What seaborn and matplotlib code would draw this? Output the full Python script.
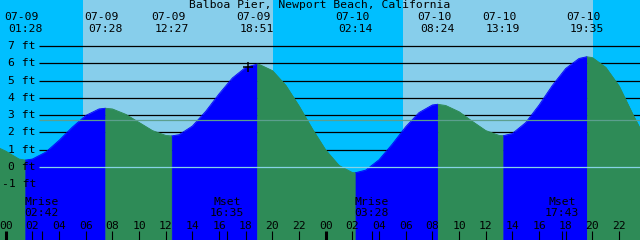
import matplotlib
matplotlib.use("Agg")
import matplotlib.pyplot as plt
import matplotlib.transforms as mtransforms
import numpy as np
import pandas as pd
import seaborn as sns

sns.set_theme(style="white")
plt.rcParams["font.family"] = ["DejaVu Sans Mono", "DejaVu Sans"]

title = "Balboa Pier, Newport Beach, California"

# High / low tides
tide_date = ["07-09", "07-09", "07-09", "07-09", "07-10", "07-10", "07-10", "07-10"]
tide_time = ["01:28", "07:28", "12:27", "18:51", "02:14", "08:24", "13:19", "19:35"]
tide_kind = ["low", "high", "low", "high", "low", "high", "low", "high"]
tide_ft = [0.4, 3.4, 1.8, 5.95, -0.33, 3.63, 1.81, 6.38]

# Water level, hours from 07-09 00:00
curve_hour = [-0.5] + list(range(0, 49))
curve_ft = [1.1,
            0.92, 0.46, 0.46, 0.86, 1.54, 2.31, 2.98, 3.36, 3.36, 3.05, 2.58, 2.11,
            1.83, 1.87, 2.37, 3.22, 4.23, 5.15, 5.77, 5.94, 5.58, 4.73, 3.53, 2.20,
            0.98, 0.09, -0.32, -0.18, 0.42, 1.33, 2.33, 3.15, 3.59, 3.56, 3.20, 2.64,
            2.11, 1.83, 1.94, 2.57, 3.58, 4.72, 5.70, 6.28, 6.33, 5.77, 4.69, 3.10,
            1.60]

# Sun and moon
sun_day = [0, 1]
sunrise = ["05:47", "05:47"]
sunset = ["20:04", "20:04"]
moon_event = ["Mrise", "Mset", "Mrise", "Mset"]
moon_time = ["02:42", "16:35", "03:28", "17:43"]
moon_day = [0, 0, 1, 1]

ft_ticks = [-1, 0, 1, 2, 3, 4, 5, 6, 7]
mean_level = 2.7
now_hour, now_ft = 18.2, 5.76

NIGHT = "#00BFFF"
DAY = "#87CEEB"
FLOOD = "#0000FF"
EBB = "#2E8B57"


def to_hours(hhmm, day=0):
    h, m = hhmm.split(":")
    return 24 * day + int(h) + int(m) / 60


tide_day = [0 if d == "07-09" else 1 for d in tide_date]
tide_hour = [to_hours(t, d) for t, d in zip(tide_time, tide_day)]

W, H = 640, 240
px_per_h = 13.333
x0 = -5.7 / px_per_h
x1 = x0 + W / px_per_h
px_per_ft = 17.286
y_top = 167 / px_per_ft
y_bot = (167 - H) / px_per_ft

fig = plt.figure(figsize=(6.4, 2.4), dpi=100)
ax = fig.add_axes([0, 0, 1, 1])
ax.set_xlim(x0, x1)
ax.set_ylim(y_bot, y_top)
ax.axis("off")

blend = mtransforms.blended_transform_factory(ax.transData, ax.transAxes)
yblend = mtransforms.blended_transform_factory(ax.transAxes, ax.transData)


def ty(ypix):
    return 1 - ypix / H


# sky: night / day
ax.axvspan(x0, x1, color=NIGHT, lw=0, zorder=0)
for d, sr, ss in zip(sun_day, sunrise, sunset):
    ax.axvspan(to_hours(sr, d), to_hours(ss, d), color=DAY, lw=0, zorder=0)

# foot lines (behind the water)
line_start = x0 + 39 / px_per_h
for f in range(1, 8):
    ax.hlines(f, line_start, x1, color="black", lw=0.9, zorder=1)

# water, split into flood and ebb stretches
pts = pd.DataFrame({"hour": curve_hour + tide_hour, "ft": curve_ft + tide_ft})
pts = pts.sort_values("hour").reset_index(drop=True)
bounds = [curve_hour[0]] + tide_hour + [curve_hour[-1]]
kinds = tide_kind + ["low"]
parts = []
for i in range(len(bounds) - 1):
    a, b = bounds[i], bounds[i + 1]
    seg = pts[(pts["hour"] >= a) & (pts["hour"] <= b)].copy()
    seg["seg"] = i
    seg["phase"] = "flood" if kinds[i] == "high" else "ebb"
    parts.append(seg)
    col = FLOOD if kinds[i] == "high" else EBB
    ax.fill_between(seg["hour"], seg["ft"], y_bot - 1, color=col, lw=0.4,
                    edgecolor=col, zorder=2)
water = pd.concat(parts, ignore_index=True)
sns.lineplot(data=water, x="hour", y="ft", hue="phase", units="seg",
             estimator=None, palette={"flood": FLOOD, "ebb": EBB},
             lw=0.6, legend=False, sort=True, ax=ax, zorder=2)
ax.set_xlim(x0, x1)
ax.set_ylim(y_bot, y_top)

# datum and mean level lines
ax.hlines(0, line_start, x1, color="#86D3E6", lw=0.9, zorder=3)
ax.hlines(mean_level, line_start, x1, color="#5C9F8E", lw=0.9, zorder=3)

ax.plot(now_hour, now_ft, marker="+", ms=7, mew=1.1, color="black", zorder=5)

fs = 8.2
kw = dict(fontsize=fs, color="black", zorder=6, va="center")

ax.text(0.5, ty(5.5), title, transform=ax.transAxes, ha="center", **kw)

date_tr = mtransforms.offset_copy(blend, fig=fig, x=-3.5, units="dots")
for hr, d, t in zip(tide_hour, tide_date, tide_time):
    ax.text(hr, ty(17), d, transform=date_tr, ha="center", **kw)
    ax.text(hr, ty(29), t, transform=blend, ha="center", **kw)

for f in ft_ticks:
    ax.text(36 / W, f, f"{f} ft", transform=yblend, ha="right", **kw)

# moon rise / set
for ev, t, d in zip(moon_event, moon_time, moon_day):
    hr = to_hours(t, d)
    ax.text(hr, ty(202), ev, transform=blend, ha="center", **kw)
    ax.text(hr, ty(213.5), t, transform=blend, ha="center", **kw)
    ax.vlines(hr, ty(240), ty(231), transform=blend, color="black",
              lw=0.8, zorder=6)

# hour axis
for hr in range(0, 49, 2):
    ax.text(hr, ty(226), f"{hr % 24:02d}", transform=blend, ha="center", **kw)
    thick = hr % 24 == 0
    ax.vlines(hr, ty(240), ty(231), transform=blend, color="black",
              lw=2.2 if thick else 0.8, zorder=6)

fig.savefig("out.png", dpi=100)
